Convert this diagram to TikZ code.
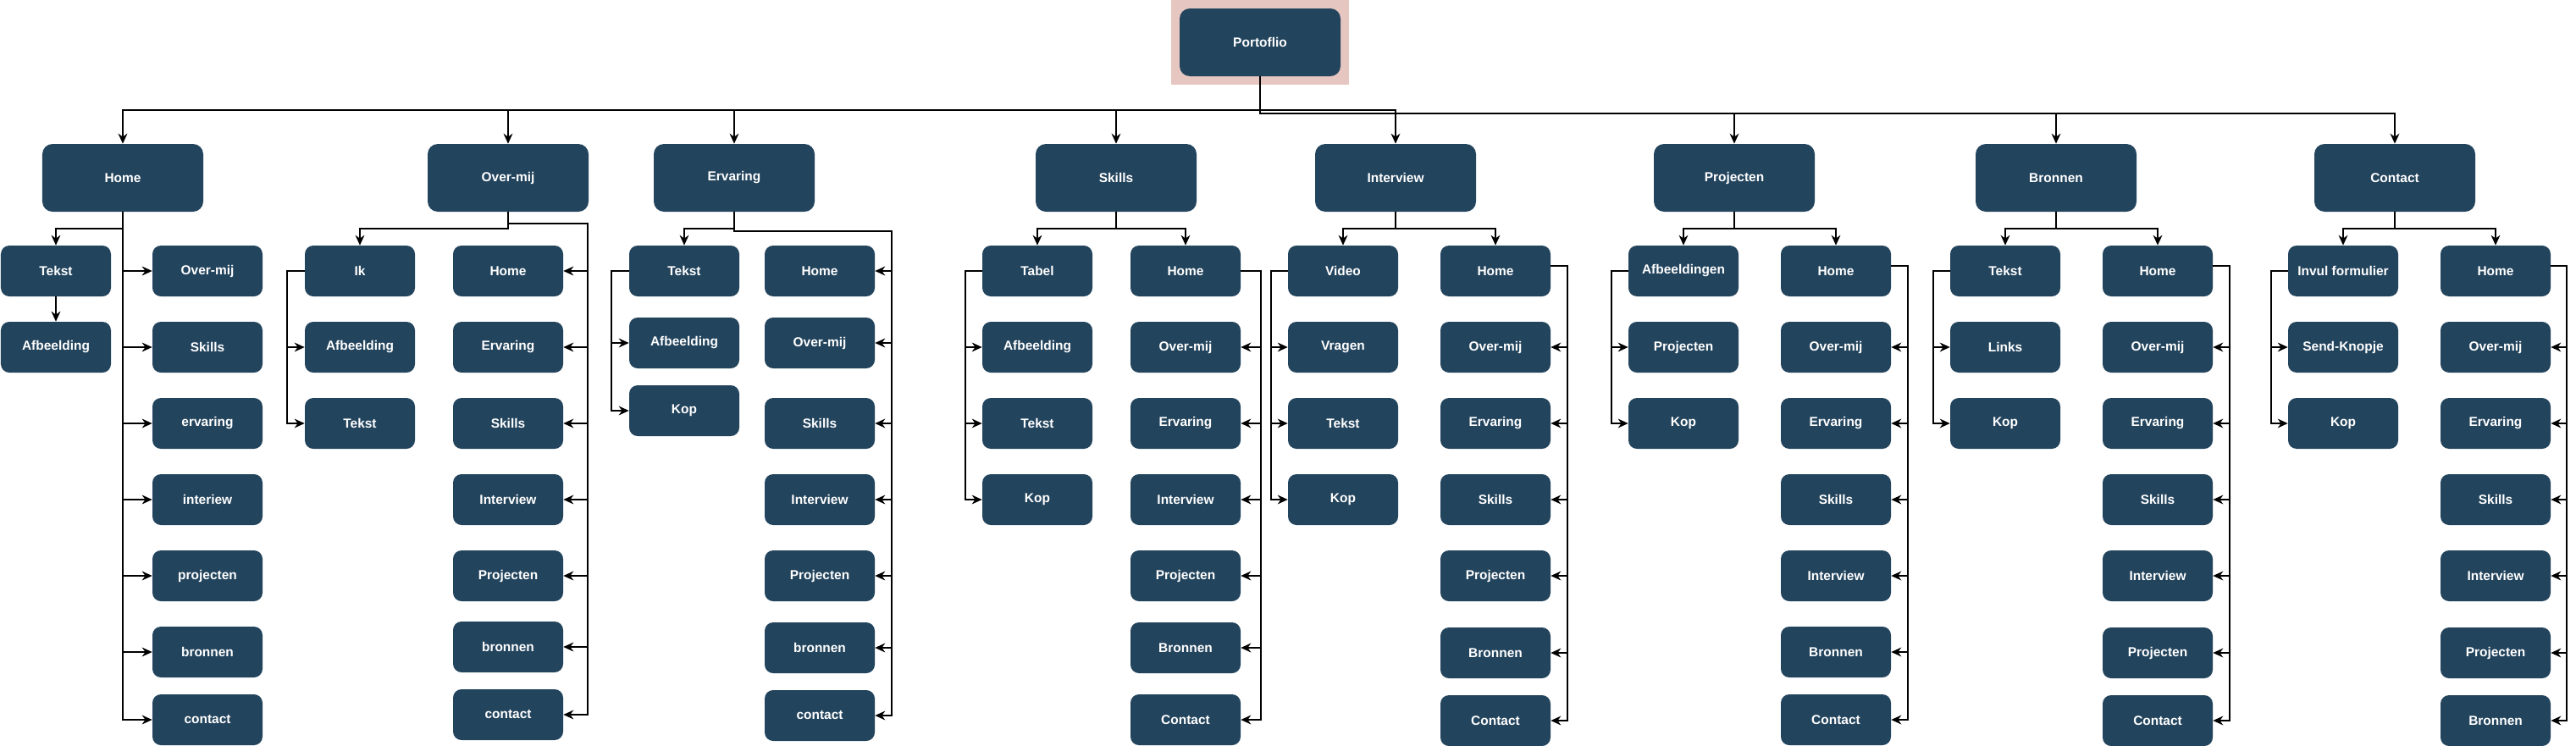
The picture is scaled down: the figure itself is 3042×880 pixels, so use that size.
\documentclass[tikz,border=0pt]{standalone}
\usepackage{fontspec}
\setmainfont{Liberation Sans}
\usetikzlibrary{arrows.meta}
\definecolor{BoxBlue}{HTML}{23445D}
\definecolor{PinkBg}{HTML}{E6C6C1}
\tikzset{
    hoofd/.style={fill=BoxBlue, text=white, rounded corners=3mm, inner sep=0pt,
        minimum width=47.5mm, minimum height=20mm,
        font=\bfseries\fontsize{11}{13}\selectfont},
    pagina/.style={fill=BoxBlue, text=white, rounded corners=2.5mm, inner sep=0pt,
        minimum width=32.5mm, minimum height=15mm,
        font=\bfseries\fontsize{11}{13}\selectfont},
    pijl/.style={draw=black, line width=1.3pt, -{Stealth[length=3mm, width=2.7mm]}}
}
\newcommand{\paginaKolom}[3]{%
    % one column of page boxes: prefix, x, list of y/label
    \foreach \y/\tekst [count=\i] in {#3} {
        \node[pagina] (#1\i) at (#2,\y) {\tekst};
    }
}

\begin{document}
\begin{tikzpicture}[x=0.25mm, y=-0.25mm]
    \useasboundingbox (0,0) rectangle (3042,880);

    % --- 1. PORTFOLIO ---
    \node[fill=PinkBg, minimum width=52.5mm, minimum height=25mm] (kader) at (1488,50) {};
    \node[hoofd] (portfolio) at (kader) {Portoflio};

    % --- 2. MAIN PAGES ---
    \foreach \x/\g/\tekst in {145/home/Home, 600/overmij/Over-mij, 867/ervaring/Ervaring,
        1318/skills/Skills, 1648/interview/Interview, 2048/projecten/Projecten,
        2428/bronnen/Bronnen, 2828/contact/Contact} {
        \node[hoofd] (\g) at (\x,210) {\tekst};
    }

    \foreach \g in {home, overmij, ervaring, skills, interview}
        \draw[pijl] (portfolio.south) -- ++(0,40) -| (\g.north);
    \foreach \g in {projecten, bronnen, contact}
        \draw[pijl] (portfolio.south) -- ++(0,44) -| (\g.north);

    % --- 3. SUB PAGES ---
    \paginaKolom{home-a}{66}{320/Tekst, 410/Afbeelding}
    \paginaKolom{home-b}{245}{320/Over-mij, 410/Skills, 500/ervaring, 590/interiew, 680/projecten, 770/bronnen, 850/contact}

    \paginaKolom{overmij-a}{425}{320/Ik, 410/Afbeelding, 500/Tekst}
    \paginaKolom{overmij-b}{600}{320/Home, 410/Ervaring, 500/Skills, 590/Interview, 680/Projecten, 764/bronnen, 844/contact}

    \paginaKolom{ervaring-a}{808}{320/Tekst, 405/Afbeelding, 485/Kop}
    \paginaKolom{ervaring-b}{968}{320/Home, 405/Over-mij, 500/Skills, 590/Interview, 680/Projecten, 765/bronnen, 845/contact}

    \paginaKolom{skills-a}{1225}{320/Tabel, 410/Afbeelding, 500/Tekst, 590/Kop}
    \paginaKolom{skills-b}{1400}{320/Home, 410/Over-mij, 500/Ervaring, 590/Interview, 680/Projecten, 765/Bronnen, 850/Contact}

    \paginaKolom{interview-a}{1586}{320/Video, 410/Vragen, 500/Tekst, 590/Kop}
    \paginaKolom{interview-b}{1766}{320/Home, 410/Over-mij, 500/Ervaring, 590/Skills, 680/Projecten, 771/Bronnen, 851/Contact}

    \paginaKolom{projecten-a}{1988}{320/Afbeeldingen, 410/Projecten, 500/Kop}
    \paginaKolom{projecten-b}{2168}{320/Home, 410/Over-mij, 500/Ervaring, 590/Skills, 680/Interview, 770/Bronnen, 850/Contact}

    \paginaKolom{bronnen-a}{2368}{320/Tekst, 410/Links, 500/Kop}
    \paginaKolom{bronnen-b}{2548}{320/Home, 410/Over-mij, 500/Ervaring, 590/Skills, 680/Interview, 771/Projecten, 851/Contact}

    \paginaKolom{contact-a}{2767}{320/Invul formulier, 410/Send-Knopje, 500/Kop}
    \paginaKolom{contact-b}{2947}{320/Home, 410/Over-mij, 500/Ervaring, 590/Skills, 680/Interview, 771/Projecten, 851/Bronnen}

    % --- 4. CONNECTORS ---
    % Home
    \draw[pijl] (home.south) -- ++(0,20) -| (home-a1.north);
    \draw[pijl] (home-a1) -- (home-a2);
    \foreach \i in {1,...,7}
        \draw[pijl] (home.south) |- (home-b\i.west);

    % Over-mij
    \draw[pijl] (overmij.south) -- ++(0,20) -| (overmij-a1.north);
    \foreach \i in {1,...,7}
        \draw[pijl] (overmij.south) |- ++(94,14) |- (overmij-b\i.east);
    \foreach \i in {2,3}
        \draw[pijl] (overmij-a1.west) -- ++(-21,0) |- (overmij-a\i.west);

    % Ervaring
    \draw[pijl] (ervaring.south) -- ++(0,20) -| (ervaring-a1.north);
    \foreach \i in {1,...,7}
        \draw[pijl] (ervaring.south) |- ++(186,23) |- (ervaring-b\i.east);
    \foreach \i in {2,3}
        \draw[pijl] (ervaring-a1.west) -- ++(-21,0) |- (ervaring-a\i.west);

    % Skills, Interview, Projecten, Bronnen, Contact
    \foreach \g/\na/\dx/\dy in {skills/4/24/0, interview/4/20/1.5, projecten/3/20/1.5,
        bronnen/3/20/1.5, contact/3/19/1.5} {
        \draw[pijl] (\g.south) -- ++(0,20) -| (\g-a1.north);
        \draw[pijl] (\g.south) -- ++(0,20) -| (\g-b1.north);
        \foreach \i in {2,...,\na}
            \draw[pijl] (\g-a1.west) -- ++(-20,0) |- (\g-a\i.west);
        \foreach \i in {2,...,7}
            \draw[pijl] ([yshift=\dy mm]\g-b1.east) -- ++(\dx,0) |- (\g-b\i.east);
    }

\end{tikzpicture}
\end{document}
